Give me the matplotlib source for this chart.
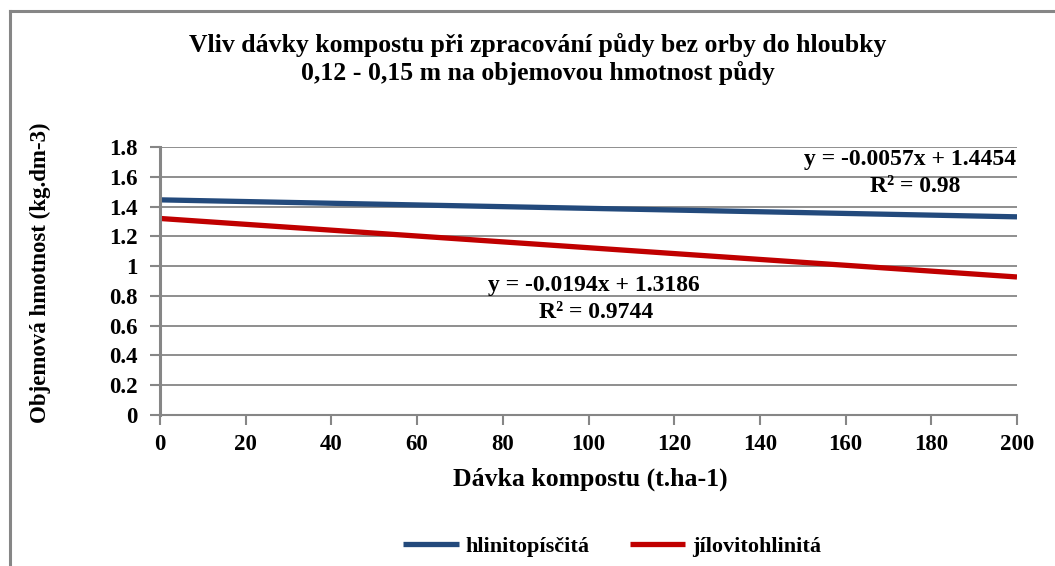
import matplotlib.pyplot as plt
from matplotlib.lines import Line2D

# Données
davka = [0, 200]
hlinitopiscita = [1.445, 1.331]
jilovitohlinita = [1.320, 0.927]
x_ticks = list(range(0, 201, 20))
y_ticks = [0, 0.2, 0.4, 0.6, 0.8, 1, 1.2, 1.4, 1.6, 1.8]
y_labels = ['0', '0.2', '0.4', '0.6', '0.8', '1', '1.2', '1.4', '1.6', '1.8']

plt.rcParams['font.family'] = ['Liberation Serif', 'DejaVu Serif']
plt.rcParams['font.weight'] = 'bold'

grid_col = '#868686'
blue = '#234A7C'
red = '#C00000'

fig = plt.figure(figsize=(10.55, 5.66), dpi=100)
ax = fig.add_axes([160 / 1055, 1 - 415 / 566, (1017 - 160) / 1055, (415 - 147) / 566])

ax.plot(davka, hlinitopiscita, color=blue, lw=3.8, solid_capstyle='butt', label='hlinitopísčitá')
ax.plot(davka, jilovitohlinita, color=red, lw=3.8, solid_capstyle='butt', label='jílovitohlinitá')

ax.set_xlim(0, 200)
ax.set_ylim(0, 1.8)
ax.set_xticks(x_ticks)
ax.set_yticks(y_ticks)
ax.set_yticklabels(y_labels)
ax.tick_params(axis='both', labelsize=16.5, color=grid_col, length=7, width=1.5)
ax.tick_params(axis='y', pad=9)
ax.tick_params(axis='x', pad=7)
for lab in ax.get_xticklabels() + ax.get_yticklabels():
    lab.set_fontweight('bold')

ax.grid(axis='y', color=grid_col, lw=1.3)
ax.set_axisbelow(True)
for s in ['top', 'right']:
    ax.spines[s].set_visible(False)
ax.spines['left'].set_color(grid_col)
ax.spines['left'].set_linewidth(2.2)
ax.spines['bottom'].set_color(grid_col)
ax.spines['bottom'].set_linewidth(1.5)

fig.text(590 / 1055, 1 - 479 / 566, 'Dávka kompostu (t.ha-1)', fontsize=18.5, fontweight='bold',
         ha='center', va='center')
fig.text(40 / 1055, 1 - 273 / 566, 'Objemová hmotnost (kg.dm-3)', fontsize=16.5, fontweight='bold',
         ha='center', va='center', rotation=90)

# Equations des tendances
ax.text(910 / 1055, 1 - 160 / 566, 'y = -0.0057x + 1.4454', transform=fig.transFigure, fontsize=17,
        fontweight='bold', ha='center', va='center')
ax.text(915 / 1055, 1 - 187 / 566, 'R² = 0.98', transform=fig.transFigure, fontsize=17,
        fontweight='bold', ha='center', va='center')
ax.text(594 / 1055, 1 - 285 / 566, 'y = -0.0194x + 1.3186', transform=fig.transFigure, fontsize=17,
        fontweight='bold', ha='center', va='center')
ax.text(596 / 1055, 1 - 312 / 566, 'R² = 0.9744', transform=fig.transFigure, fontsize=17,
        fontweight='bold', ha='center', va='center')

fig.text(538 / 1055, 1 - 45 / 566, 'Vliv dávky kompostu při zpracování půdy bez orby do hloubky',
         fontsize=18.5, fontweight='bold', ha='center', va='center')
fig.text(538 / 1055, 1 - 73 / 566, '0,12 - 0,15 m na objemovou hmotnost půdy',
         fontsize=18.5, fontweight='bold', ha='center', va='center')

fig.legend(loc='center', bbox_to_anchor=(612 / 1055, 1 - 547 / 566), ncol=2, frameon=False,
           fontsize=16, handlelength=2.5, columnspacing=1.8, handletextpad=0.3)

# Cadre du graphique
fig.add_artist(Line2D([10 / 1055, 10 / 1055], [0, 1 - 11 / 566], color=grid_col, lw=2.2))
fig.add_artist(Line2D([10 / 1055, 1], [1 - 11 / 566, 1 - 11 / 566], color=grid_col, lw=2.2))

fig.savefig('out.png', dpi=100)
